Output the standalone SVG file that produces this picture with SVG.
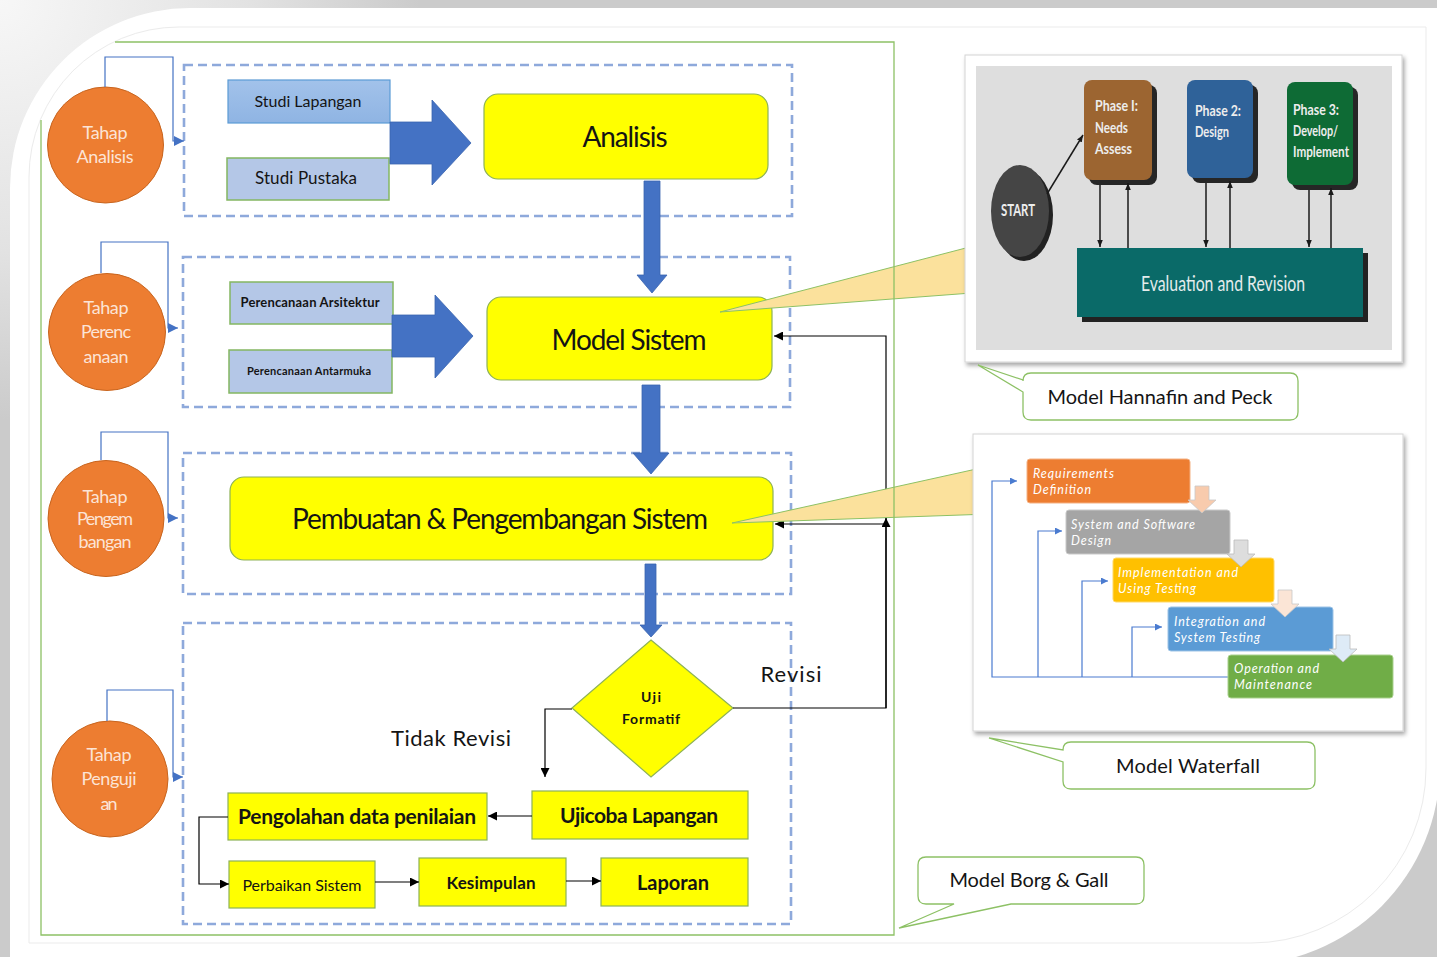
<svg xmlns="http://www.w3.org/2000/svg" width="1437" height="957" viewBox="0 0 1437 957">
<style>
.t{font-family:Lato,'Open Sans','Liberation Sans',sans-serif;fill:#141414;text-anchor:middle}
.b{font-weight:bold}
.ct{font-family:Lato,'Open Sans',sans-serif;font-size:18px;fill:#FCE4D6;text-anchor:middle}
.circ{fill:#ED7D31;stroke:#C8651F;stroke-width:1}
.ybox{fill:#FFFF00;stroke:#8DB257;stroke-width:1.2}
.bbox{fill:#B4C7E7;stroke:#84B761;stroke-width:1.5}
.dash{fill:none;stroke:#8EA9DB;stroke-width:2.6;stroke-dasharray:9 5}
.conn{fill:none;stroke:#000;stroke-width:1.2}
.bconn{fill:none;stroke:#4472C4;stroke-width:1.2}
.barrow{fill:#4472C4;stroke:#3A64B0;stroke-width:0.8}
.wedge{fill:#FBE19C;stroke:#8DC165;stroke-width:1}
.label{fill:#fff;stroke:#8DC165;stroke-width:1.3}
.hn{font-family:Lato,'Open Sans',sans-serif;font-weight:bold;font-size:15px;fill:#EDEDED}
.hs{font-family:Lato,'Open Sans',sans-serif;font-weight:bold;font-size:17px;fill:#EDEDED;text-anchor:middle}
.he{font-family:Lato,'Open Sans',sans-serif;font-size:22px;fill:#E4ECEC;text-anchor:middle}
.wf{font-family:Lato,'Open Sans',sans-serif;font-style:italic;font-size:12.5px;fill:#FFFFFF}
.hline{fill:none;stroke:#1a1a1a;stroke-width:1.5}
.wline{fill:none;stroke:#4A7BD0;stroke-width:1.2}
</style>
<defs>
<radialGradient id="bgtl" cx="0" cy="0" r="420" gradientUnits="userSpaceOnUse">
<stop offset="0" stop-color="#f7f7f7"/><stop offset="0.6" stop-color="#e2e2e2"/><stop offset="1" stop-color="#cbcbcb"/>
</radialGradient>
<linearGradient id="slg" x1="0" y1="0" x2="0" y2="1">
<stop offset="0" stop-color="#A2C2EA"/><stop offset="1" stop-color="#8FB4E3"/>
</linearGradient>
<filter id="sh" x="-5%" y="-5%" width="112%" height="115%">
<feDropShadow dx="2" dy="3" stdDeviation="2" flood-color="#000" flood-opacity="0.35"/>
</filter>
<marker id="ak" viewBox="0 0 10 10" refX="10" refY="5" markerWidth="9" markerHeight="9" markerUnits="userSpaceOnUse" orient="auto">
<path d="M0,0 L10,5 L0,10 z" fill="#000"/>
</marker>
<marker id="ab" viewBox="0 0 10 10" refX="10" refY="5" markerWidth="10" markerHeight="10" markerUnits="userSpaceOnUse" orient="auto">
<path d="M0,0 L10,5 L0,10 z" fill="#4472C4"/>
</marker>
<marker id="ah" viewBox="0 0 10 10" refX="10" refY="5" markerWidth="7" markerHeight="7" markerUnits="userSpaceOnUse" orient="auto">
<path d="M0,1 L10,5 L0,9 z" fill="#1a1a1a"/>
</marker>
<marker id="aw" viewBox="0 0 10 10" refX="10" refY="5" markerWidth="7" markerHeight="7" markerUnits="userSpaceOnUse" orient="auto">
<path d="M0,0 L10,5 L0,10 z" fill="#4A7BD0"/>
</marker>
</defs>

<!-- background -->
<rect width="1437" height="957" fill="url(#bgtl)"/>
<path d="M10,188 A180,180 0 0 1 190,8 H1440 V765 A200,200 0 0 1 1240,965 H10 Z" fill="#ffffff"/>
<path d="M29,177 A150,150 0 0 1 179,27 H1426 V768 A175,175 0 0 1 1251,943 H29 Z" fill="none" stroke="#ebebeb" stroke-width="1"/>

<!-- dashed phase containers -->
<g id="containers">
<rect class="dash" x="184" y="65" width="608" height="151"/>
<rect class="dash" x="183" y="257" width="607" height="150"/>
<rect class="dash" x="183" y="453" width="608" height="141"/>
<rect class="dash" x="183" y="623" width="608" height="301"/>
</g>

<!-- circles -->
<g id="tahap-analisis">
<circle class="circ" cx="105.5" cy="145" r="58"/>
<text class="ct" x="105" y="139" textLength="45">Tahap</text>
<text class="ct" x="105" y="163" textLength="57">Analisis</text>
</g>
<g id="tahap-perencanaan">
<circle class="circ" cx="107" cy="332" r="58.5"/>
<text class="ct" x="106" y="314" textLength="45">Tahap</text>
<text class="ct" x="106" y="338" textLength="50">Perenc</text>
<text class="ct" x="106" y="363" textLength="45">anaan</text>
</g>
<g id="tahap-pengembangan">
<circle class="circ" cx="106" cy="518.5" r="58"/>
<text class="ct" x="105" y="503" textLength="45">Tahap</text>
<text class="ct" x="105" y="525" textLength="56">Pengem</text>
<text class="ct" x="105" y="548" textLength="53">bangan</text>
</g>
<g id="tahap-pengujian">
<circle class="circ" cx="110" cy="779" r="58"/>
<text class="ct" x="109" y="761" textLength="45">Tahap</text>
<text class="ct" x="109" y="785" textLength="55">Penguji</text>
<text class="ct" x="109" y="810" textLength="17">an</text>
</g>

<!-- section 1 -->
<g id="studi-lapangan">
<rect x="228" y="80" width="162" height="43" fill="url(#slg)" stroke="#5B9BD5" stroke-width="1.2"/>
<text class="t" x="308" y="107" font-size="16" textLength="107">Studi Lapangan</text>
</g>
<g id="studi-pustaka">
<rect class="bbox" x="227" y="158" width="162" height="42"/>
<text class="t" x="306" y="184" font-size="17" textLength="102">Studi Pustaka</text>
</g>
<g id="analisis">
<rect class="ybox" x="484" y="94" width="284" height="85" rx="14"/>
<text class="t" x="625" y="147" font-size="28" textLength="85">Analisis</text>
</g>

<!-- section 2 -->
<g id="perencanaan-arsitektur">
<rect class="bbox" x="230" y="282" width="163" height="42"/>
<text class="t b" x="310" y="307" font-size="13" textLength="139">Perencanaan Arsitektur</text>
</g>
<g id="perencanaan-antarmuka">
<rect class="bbox" x="229" y="350" width="163" height="43"/>
<text class="t b" x="309" y="375" font-size="11" textLength="124">Perencanaan Antarmuka</text>
</g>
<g id="model-sistem">
<rect class="ybox" x="487" y="297" width="285" height="83" rx="14"/>
<text class="t" x="629" y="350" font-size="28" textLength="155">Model Sistem</text>
</g>

<!-- section 3 -->
<g id="pembuatan">
<rect class="ybox" x="230" y="477" width="543" height="83" rx="14"/>
<text class="t" x="500" y="529" font-size="28" textLength="416">Pembuatan &amp; Pengembangan Sistem</text>
</g>

<!-- section 4 -->
<g id="uji-formatif">
<polygon class="ybox" points="651,640 733,708 651,777 572,708"/>
<text class="t b" x="651" y="702" font-size="14" textLength="20">Uji</text>
<text class="t b" x="651" y="724" font-size="14" textLength="58">Formatif</text>
</g>
<g id="ujicoba-lapangan">
<rect class="ybox" x="532" y="791" width="216" height="48"/>
<text class="t b" x="639" y="823" font-size="21" textLength="158">Ujicoba Lapangan</text>
</g>
<g id="pengolahan">
<rect class="ybox" x="228" y="793" width="259" height="47"/>
<text class="t b" x="357" y="824" font-size="21" textLength="238">Pengolahan data penilaian</text>
</g>
<g id="perbaikan">
<rect class="ybox" x="229" y="861" width="146" height="47"/>
<text class="t" x="302" y="891" font-size="16" textLength="119">Perbaikan Sistem</text>
</g>
<g id="kesimpulan">
<rect class="ybox" x="419" y="858" width="147" height="48"/>
<text class="t b" x="491" y="889" font-size="17" textLength="89">Kesimpulan</text>
</g>
<g id="laporan">
<rect class="ybox" x="601" y="858" width="147" height="48"/>
<text class="t b" x="673" y="890" font-size="20" textLength="72">Laporan</text>
</g>

<!-- labels -->
<text class="t" x="791" y="682" font-size="22" fill="#262626" textLength="61">Revisi</text>
<text class="t" x="451" y="746" font-size="22" fill="#262626" textLength="120">Tidak Revisi</text>

<!-- connectors -->
<g id="connectors">
<path class="barrow" d="M390,122 H432 V100 L471,143 L432,185 V164 H390 Z"/>
<path class="barrow" d="M392,315 H435 V295 L473,336 L435,378 V357 H392 Z"/>
<path class="barrow" d="M644,181 H660 V275 H667 L652,293 L637,275 H644 Z"/>
<path class="barrow" d="M642,385 H660 V453 H669 L651,474 L633,453 H642 Z"/>
<path class="barrow" d="M645,564 H656 V625 H662 L651,637 L640,625 H645 Z"/>
<path class="bconn" d="M105,87 V57 H173 V141 H184" marker-end="url(#ab)"/>
<path class="bconn" d="M101,273 V242 H168 V328 H178" marker-end="url(#ab)"/>
<path class="bconn" d="M101,460 V432 H168 V518 H178" marker-end="url(#ab)"/>
<path class="bconn" d="M107,721 V690 H173 V777 H183" marker-end="url(#ab)"/>
<path class="conn" d="M733,708 H886 V336 H774" marker-end="url(#ak)"/>
<path class="conn" d="M886,708 V518" marker-end="url(#ak)"/>
<path class="conn" d="M886,524 H775" marker-end="url(#ak)"/>
<path class="conn" d="M572,709 H545 V777" marker-end="url(#ak)"/>
<path class="conn" d="M532,816 H488" marker-end="url(#ak)"/>
<path class="conn" d="M228,817 H199 V884 H229" marker-end="url(#ak)"/>
<path class="conn" d="M375,882 H419" marker-end="url(#ak)"/>
<path class="conn" d="M566,881 H601" marker-end="url(#ak)"/>
</g>

<!-- callout wedges -->
<path class="wedge" d="M720,312 L985,243 L985,292 Z"/>
<path class="wedge" d="M732,523 L990,466 L990,514 Z"/>

<!-- green outer frame -->
<path d="M115,42 H894 V935 H41 V120" fill="none" stroke="#8DC165" stroke-width="1.3"/>
<line x1="987" y1="435" x2="1325" y2="435" stroke="#8DC165" stroke-width="1.3"/>

<!-- Hannafin and Peck picture -->
<g id="hannafin">
<rect x="965" y="55" width="437" height="307" fill="#ffffff" stroke="#d4d4d4" filter="url(#sh)"/>
<rect x="976" y="66" width="416" height="284" fill="#DEDEDE"/>
<ellipse cx="1024" cy="215" rx="29" ry="46" fill="#222"/>
<ellipse cx="1020" cy="211" rx="29" ry="46" fill="#454545"/>
<text class="hs" x="1018" y="216" textLength="34" lengthAdjust="spacingAndGlyphs">START</text>
<rect x="1089" y="85" width="68" height="100" rx="8" fill="#262626"/>
<rect x="1084" y="80" width="68" height="100" rx="8" fill="#9C6531"/>
<text class="hn" x="1095" y="111" textLength="43" lengthAdjust="spacingAndGlyphs">Phase I:</text>
<text class="hn" x="1095" y="133" textLength="33" lengthAdjust="spacingAndGlyphs">Needs</text>
<text class="hn" x="1095" y="154" textLength="37" lengthAdjust="spacingAndGlyphs">Assess</text>
<rect x="1192" y="85" width="66" height="98" rx="8" fill="#262626"/>
<rect x="1187" y="80" width="66" height="98" rx="8" fill="#2F6299"/>
<text class="hn" x="1195" y="116" textLength="46" lengthAdjust="spacingAndGlyphs">Phase 2:</text>
<text class="hn" x="1195" y="137" textLength="34" lengthAdjust="spacingAndGlyphs">Design</text>
<rect x="1292" y="87" width="66" height="103" rx="8" fill="#262626"/>
<rect x="1287" y="82" width="66" height="103" rx="8" fill="#0E6B35"/>
<text class="hn" x="1293" y="115" textLength="46" lengthAdjust="spacingAndGlyphs">Phase 3:</text>
<text class="hn" x="1293" y="136" textLength="45" lengthAdjust="spacingAndGlyphs">Develop/</text>
<text class="hn" x="1293" y="157" textLength="56" lengthAdjust="spacingAndGlyphs">Implement</text>
<rect x="1082" y="253" width="286" height="69" fill="#222"/>
<rect x="1077" y="248" width="286" height="69" fill="#0A6A68"/>
<text class="he" x="1223" y="291" textLength="164" lengthAdjust="spacingAndGlyphs">Evaluation and Revision</text>
<path class="hline" d="M1047,194 L1083,135" marker-end="url(#ah)"/>
<path class="hline" d="M1100,185 V247" marker-end="url(#ah)"/>
<path class="hline" d="M1128,248 V183" marker-end="url(#ah)"/>
<path class="hline" d="M1206,183 V247" marker-end="url(#ah)"/>
<path class="hline" d="M1230,248 V181" marker-end="url(#ah)"/>
<path class="hline" d="M1309,190 V247" marker-end="url(#ah)"/>
<path class="hline" d="M1331,248 V188" marker-end="url(#ah)"/>
</g>

<g id="label-hannafin">
<path class="label" d="M1031,373 H1290 Q1298,373 1298,381 V412 Q1298,420 1290,420 H1031 Q1023,420 1023,412 V392 L978,365 L1023,380 V381 Q1023,373 1031,373 Z"/>
<text class="t" x="1160" y="404" font-size="20" textLength="225">Model Hannafin and Peck</text>
</g>

<!-- Waterfall picture -->
<g id="waterfall">
<rect x="973" y="434" width="430" height="297" fill="#ffffff" stroke="#d4d4d4" filter="url(#sh)"/>
<path class="wline" d="M1228,677 H992 V481 H1017" marker-end="url(#aw)"/>
<path class="wline" d="M1038,677 V531 H1062" marker-end="url(#aw)"/>
<path class="wline" d="M1082,677 V581 H1108" marker-end="url(#aw)"/>
<path class="wline" d="M1132,677 V627 H1162" marker-end="url(#aw)"/>
<rect x="1027" y="459" width="163" height="44" rx="3" fill="#ED7D31" stroke="#F4B183" stroke-width="1"/>
<text class="wf" x="1033" y="478" textLength="81">Requirements</text>
<text class="wf" x="1033" y="494" textLength="58">Definition</text>
<rect x="1066" y="510" width="164" height="44" rx="3" fill="#A5A5A5" stroke="#C9C9C9" stroke-width="1"/>
<text class="wf" x="1071" y="529" textLength="124">System and Software</text>
<text class="wf" x="1071" y="545" textLength="40">Design</text>
<rect x="1113" y="558" width="161" height="44" rx="3" fill="#FFC000" stroke="#FFD966" stroke-width="1"/>
<text class="wf" x="1118" y="577" textLength="120">Implementation and</text>
<text class="wf" x="1118" y="593" textLength="78">Using Testing</text>
<rect x="1168" y="607" width="165" height="44" rx="3" fill="#5B9BD5" stroke="#9DC3E6" stroke-width="1"/>
<text class="wf" x="1174" y="626" textLength="91">Integration and</text>
<text class="wf" x="1174" y="642" textLength="86">System Testing</text>
<rect x="1228" y="655" width="165" height="43" rx="3" fill="#70AD47" stroke="#A9D18E" stroke-width="1"/>
<text class="wf" x="1234" y="673" textLength="85">Operation and</text>
<text class="wf" x="1234" y="689" textLength="78">Maintenance</text>
<path d="M1195,486 H1209 V500 H1216 L1202,513 L1188,500 H1195 Z" fill="#F8CBAD" stroke="#c8c8c8" stroke-width="0.8"/>
<path d="M1234,540 H1248 V554 H1255 L1241,567 L1227,554 H1234 Z" fill="#DDDDDD" stroke="#bbbbbb" stroke-width="0.8"/>
<path d="M1278,590 H1292 V604 H1299 L1285,617 L1271,604 H1278 Z" fill="#FBE5D6" stroke="#c8c8c8" stroke-width="0.8"/>
<path d="M1336,635 H1350 V649 H1357 L1343,662 L1329,649 H1336 Z" fill="#DEEBF7" stroke="#bbbbbb" stroke-width="0.8"/>
</g>

<g id="label-waterfall">
<path class="label" d="M1071,742 H1307 Q1315,742 1315,750 V781 Q1315,789 1307,789 H1071 Q1063,789 1063,781 V762 L989,738 L1063,750 Q1063,742 1071,742 Z"/>
<text class="t" x="1188" y="773" font-size="20" textLength="144">Model Waterfall</text>
</g>

<g id="label-borg-gall">
<path class="label" d="M926,857 H1136 Q1144,857 1144,865 V896 Q1144,904 1136,904 H1011 L899,928 L954,904 H926 Q918,904 918,896 V865 Q918,857 926,857 Z"/>
<text class="t" x="1029" y="887" font-size="20" textLength="159">Model Borg &amp; Gall</text>
</g>
</svg>
